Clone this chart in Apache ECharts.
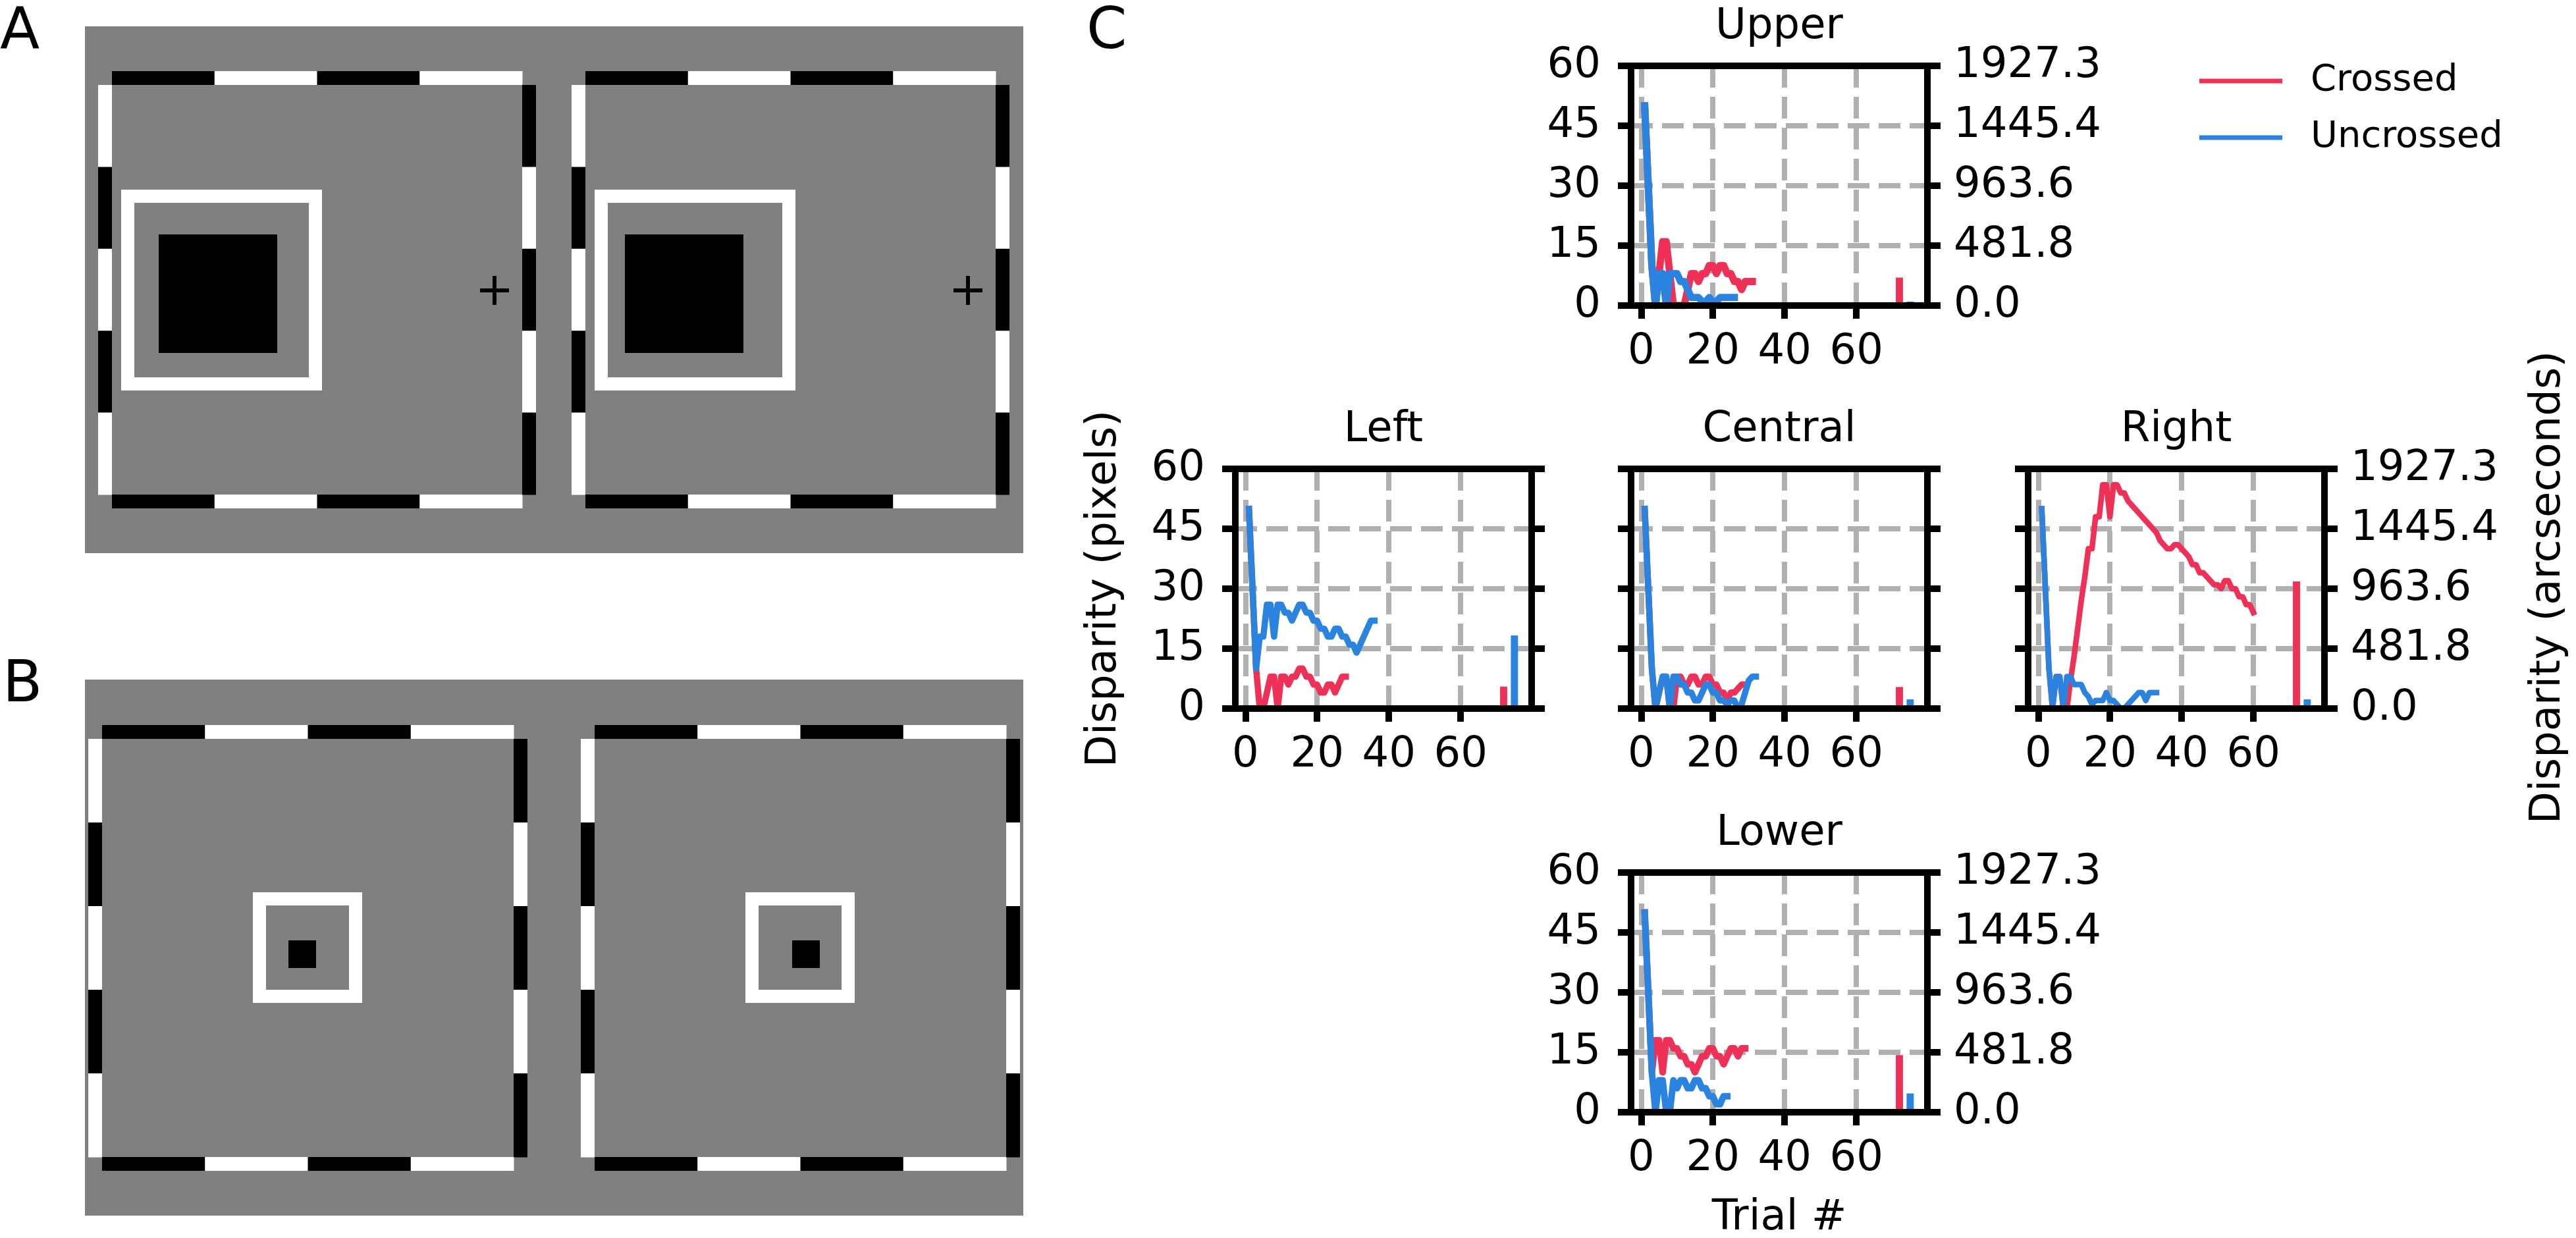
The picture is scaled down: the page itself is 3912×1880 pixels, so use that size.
<!DOCTYPE html>
<html lang="en">
<head>
    <meta charset="UTF-8">
    <title>disparity staircases</title>
    <script src="https://cdn.jsdelivr.net/npm/echarts@6.0.0/dist/echarts.min.js"></script>
    <style>
        html, body {margin: 0; padding: 0; background: #fff;}
        #main {width: 3912px; height: 1880px;}
    </style>
</head>
<body>
<div id="main"></div>

<script type="text/javascript">

    // disparity (pixels) on each trial, trial numbers start at 1
    var upperCrossed = [50, 30, 10, 0, 8, 16, 16, 8, 0, 0, 0, 0, 4, 8, 8, 6, 8, 8, 10, 10, 8, 10, 10, 8, 8, 6, 6, 4, 6, 6, 6];
    var upperUncrossed = [50, 30, 10, 0, 8, 8, 0, 8, 8, 8, 6, 6, 4, 2, 2, 2, 1, 1, 2, 1, 1, 2, 2, 2, 2, 2];

    var leftCrossed = [50, 30, 10, 0, 0, 4, 8, 8, 0, 8, 8, 6, 8, 8, 10, 10, 8, 8, 6, 6, 4, 4, 6, 6, 4, 6, 8, 8];
    var leftUncrossed = [50, 30, 10, 18, 18, 26, 26, 18, 26, 26, 24, 24, 22, 24, 26, 26, 24, 24, 22, 22, 20, 20, 18, 18,
        20, 20, 18, 18, 16, 16, 14, 16, 18, 20, 22, 22];

    var centralCrossed = [50, 30, 10, 0, 4, 8, 8, 0, 0, 8, 8, 6, 6, 8, 8, 6, 6, 8, 8, 6, 6, 4, 4, 2, 4, 4, 5, 6, 6];
    var centralUncrossed = [50, 30, 10, 0, 4, 8, 8, 0, 8, 8, 6, 6, 4, 4, 2, 2, 4, 6, 6, 4, 4, 2, 2, 1, 2, 2, 0, 1, 4, 7, 8, 8];

    var rightCrossed = [50, 30, 10, 0, 8, 8, 0, 0, 7, 13, 20, 27, 33, 40, 40, 48, 48, 56, 56, 48, 56, 56, 54, 54, 52, 51,
        50, 49, 48, 47, 46, 45, 44, 42, 41, 40, 40, 41, 41, 40, 39, 38, 36, 36, 34, 34, 33, 32, 31, 31, 30, 32, 32, 30,
        30, 28, 28, 26, 26, 24];
    var rightUncrossed = [50, 30, 10, 0, 8, 8, 0, 8, 8, 6, 6, 6, 4, 3, 1, 2, 2, 2, 4, 2, 2, 1, 0, 0, 1, 2, 3, 4, 4, 2, 4, 4, 4];

    var lowerCrossed = [50, 30, 10, 18, 18, 10, 18, 18, 16, 16, 14, 14, 12, 12, 10, 12, 14, 14, 16, 16, 14, 14, 12, 14, 16, 16, 14, 16, 16];
    var lowerUncrossed = [50, 30, 10, 0, 8, 8, 0, 0, 8, 6, 8, 8, 6, 6, 8, 8, 6, 6, 4, 4, 2, 2, 4, 4];

    // summary bars: [crossed, uncrossed], drawn at these trial positions
    var summaryTrials = [72, 75];
    var upperSummary = [7.0, 1.0];
    var leftSummary = [5.5, 18.3];
    var centralSummary = [5.4, 2.3];
    var rightSummary = [31.8, 2.3];
    var lowerSummary = [14.3, 4.7];

    var pixelTicks = [0, 15, 30, 45, 60];
    var arcsecLabels = ['0.0', '481.8', '963.6', '1445.4', '1927.3'];
    var trialTicks = [0, 20, 40, 60];
    var trialRange = [-2.8, 79.8];

    var RED = '#ef3157';
    var BLUE = '#2a84df';
    var FONT = 'DejaVu Sans';

    var panels = [
        {name: 'Upper', crossed: upperCrossed, uncrossed: upperUncrossed, summary: upperSummary,
            left: 2477, top: 100, leftLabels: true, rightLabels: true, lw: 11},
        {name: 'Left', crossed: leftCrossed, uncrossed: leftUncrossed, summary: leftSummary,
            left: 1876, top: 712, leftLabels: true, rightLabels: false, lw: 9.5},
        {name: 'Central', crossed: centralCrossed, uncrossed: centralUncrossed, summary: centralSummary,
            left: 2477, top: 712, leftLabels: false, rightLabels: false, lw: 9.5},
        {name: 'Right', crossed: rightCrossed, uncrossed: rightUncrossed, summary: rightSummary,
            left: 3080, top: 712, leftLabels: false, rightLabels: true, lw: 8.5},
        {name: 'Lower', crossed: lowerCrossed, uncrossed: lowerUncrossed, summary: lowerSummary,
            left: 2477, top: 1325, leftLabels: true, rightLabels: true, lw: 10}
    ];
    var BOX_W = 450, BOX_H = 364;

    var toPoints = function (vals) {
        return vals.map(function (v, k) {
            return [k + 1, v];
        });
    };

    var spine = {show: true, onZero: false, lineStyle: {color: '#000', width: 10, cap: 'square'}};
    var tick = {show: true, length: 20, lineStyle: {color: '#000', width: 10}};
    var dashed = {show: true, lineStyle: {color: '#b0b0b0', width: 8, type: [33, 14]}};
    var labelFont = {fontSize: 64, fontFamily: FONT, color: '#000'};
    var off = {show: false};

    var barItem = function (color) {
        return function (params, api) {
            var x = api.value(0), v = api.value(1);
            var p0 = api.coord([x - 1, 0]);
            var p1 = api.coord([x + 1, v]);
            return {
                type: 'rect',
                shape: {x: p0[0], y: p1[1], width: p1[0] - p0[0], height: p0[1] - p1[1]},
                style: {fill: color}
            };
        };
    };

    var grids = [], xAxes = [], yAxes = [], series = [], graphics = [];

    panels.forEach(function (p, i) {
        grids.push({left: p.left, top: p.top, width: BOX_W, height: BOX_H, show: false,
            containLabel: false, outerBoundsMode: 'none'});

        var xBase = {gridIndex: i, type: 'value', min: trialRange[0], max: trialRange[1]};
        xAxes.push(Object.assign({}, xBase, {
            position: 'bottom', z: 5, axisLine: spine,
            axisTick: Object.assign({customValues: trialTicks}, tick),
            axisLabel: Object.assign({customValues: trialTicks, margin: 39}, labelFont),
            splitLine: off
        }));
        xAxes.push(Object.assign({}, xBase, {
            position: 'top', z: 5, axisLine: spine, axisTick: off, axisLabel: off, splitLine: off
        }));
        xAxes.push(Object.assign({}, xBase, {
            position: 'bottom', z: 0, axisLine: {show: false, onZero: false},
            axisTick: {show: false, customValues: trialTicks},
            axisLabel: {show: false, customValues: trialTicks},
            splitLine: dashed
        }));

        var yBase = {gridIndex: i, type: 'value', min: pixelTicks[0], max: pixelTicks[pixelTicks.length - 1],
            interval: pixelTicks[1] - pixelTicks[0]};
        yAxes.push(Object.assign({}, yBase, {
            position: 'left', z: 5, axisLine: spine, axisTick: tick,
            axisLabel: Object.assign({show: p.leftLabels, margin: 46}, labelFont),
            splitLine: off
        }));
        yAxes.push(Object.assign({}, yBase, {
            position: 'right', z: 5, axisLine: spine, axisTick: tick,
            axisLabel: Object.assign({
                show: p.rightLabels, margin: 40,
                formatter: function (val) {
                    return arcsecLabels[Math.round(val / (pixelTicks[1] - pixelTicks[0]))];
                }
            }, labelFont),
            splitLine: off
        }));
        yAxes.push(Object.assign({}, yBase, {
            position: 'left', z: 0, axisLine: {show: false, onZero: false}, axisTick: off, axisLabel: off,
            splitLine: dashed
        }));

        var xi = 3 * i, yi = 3 * i;
        series.push({
            name: 'Crossed', type: 'line', xAxisIndex: xi, yAxisIndex: yi, data: toPoints(p.crossed),
            symbol: 'none', clip: true, z: 2,
            lineStyle: {color: RED, width: p.lw, join: 'round', cap: 'square'}, itemStyle: {color: RED}
        });
        series.push({
            name: 'Uncrossed', type: 'line', xAxisIndex: xi, yAxisIndex: yi, data: toPoints(p.uncrossed),
            symbol: 'none', clip: true, z: 2,
            lineStyle: {color: BLUE, width: p.lw, join: 'round', cap: 'square'}, itemStyle: {color: BLUE}
        });
        series.push({
            type: 'custom', xAxisIndex: xi, yAxisIndex: yi, clip: true, z: 2,
            data: [[summaryTrials[0], p.summary[0]]], renderItem: barItem(RED)
        });
        series.push({
            type: 'custom', xAxisIndex: xi, yAxisIndex: yi, clip: true, z: 2,
            data: [[summaryTrials[1], p.summary[1]]], renderItem: barItem(BLUE)
        });

        graphics.push({
            type: 'text', x: p.left + BOX_W / 2, y: p.top - 59, z: 10,
            style: {text: p.name, fontSize: 64, fontFamily: FONT, fill: '#000', align: 'center', verticalAlign: 'middle'}
        });
    });

    var txt = function (s, x, y, size, align, rot) {
        return {
            type: 'text', x: x, y: y, rotation: rot || 0, z: 10,
            style: {text: s, fontSize: size, fontFamily: FONT, fill: '#000', align: align, verticalAlign: 'middle'}
        };
    };

    graphics.push(txt('A', 0, 50, 88, 'left'));
    graphics.push(txt('B', 4, 1042, 88, 'left'));
    graphics.push(txt('C', 1650, 50, 88, 'left'));
    graphics.push(txt('Disparity (pixels)', 1677, 894, 64, 'center', Math.PI / 2));
    graphics.push(txt('Disparity (arcseconds)', 3870, 892, 64, 'center', Math.PI / 2));
    graphics.push(txt('Trial #', 2702, 1850, 64, 'center'));

    // legend
    graphics.push({type: 'line', shape: {x1: 3340, y1: 123, x2: 3466, y2: 123}, style: {stroke: RED, lineWidth: 7}});
    graphics.push({type: 'line', shape: {x1: 3340, y1: 209, x2: 3466, y2: 209}, style: {stroke: BLUE, lineWidth: 7}});
    graphics.push(txt('Crossed', 3509, 122, 56, 'left'));
    graphics.push(txt('Uncrossed', 3509, 208, 56, 'left'));

    // stimulus pictures (panels A and B)
    var rect = function (x, y, w, h, c) {
        return {type: 'rect', shape: {x: x, y: y, width: w, height: h}, style: {fill: c}, z: 1};
    };
    var frame = function (x0, x1, y0, y1, t) {
        var els = [], sw = (x1 - x0) / 4, sh = (y1 - y0) / 5, k;
        for (k = 0; k < 4; k++) {
            var c = k % 2 === 0 ? '#000' : '#fff';
            els.push(rect(x0 + k * sw, y0 - t, sw + 0.5, t, c));
            els.push(rect(x0 + k * sw, y1, sw + 0.5, t, c));
        }
        for (k = 0; k < 5; k++) {
            els.push(rect(x0 - t, y0 + k * sh, t, sh + 0.5, k % 2 === 0 ? '#fff' : '#000'));
            els.push(rect(x1, y0 + k * sh, t, sh + 0.5, k % 2 === 0 ? '#000' : '#fff'));
        }
        return els;
    };
    var target = function (ox, oy, ow, oh, bx, by, bs) {
        return [rect(ox, oy, ow, oh, '#fff'), rect(ox + 20, oy + 20, ow - 40, oh - 40, '#808080'),
            rect(bx, by, bs, bs, '#000')];
    };
    var plus = function (cx, cy) {
        return [rect(cx - 22, cy - 3, 44, 6, '#000'), rect(cx - 3, cy - 22, 6, 44, '#000')];
    };

    graphics.push(rect(129, 40, 1425, 800, '#808080'));
    graphics = graphics.concat(frame(170, 793, 129, 751, 21), frame(889, 1512, 129, 751, 21),
        target(184, 288, 305, 305, 241, 356, 180), target(903, 288, 305, 305, 949, 356, 180),
        plus(751, 441), plus(1470, 441));

    graphics.push(rect(129, 1032, 1425, 814, '#808080'));
    graphics = graphics.concat(frame(155, 780, 1122, 1757, 21), frame(903, 1528, 1122, 1757, 21),
        target(384, 1355, 166, 168, 438, 1428, 42), target(1132, 1355, 166, 168, 1203, 1428, 42));

    var option = {
        animation: false,
        backgroundColor: '#fff',
        grid: grids,
        xAxis: xAxes,
        yAxis: yAxes,
        series: series,
        graphic: {elements: graphics}
    };

    var myChart = echarts.init(document.getElementById('main'), null, {renderer: 'canvas'});
    myChart.setOption(option);

</script>
</body>
</html>
